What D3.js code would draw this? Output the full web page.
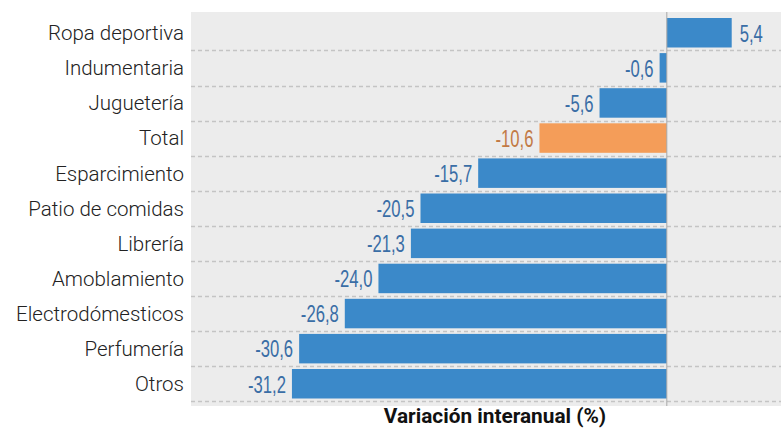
<!DOCTYPE html>
<html>
<head>
<meta charset="utf-8">
<script src="https://cdn.jsdelivr.net/npm/d3@7"></script>
<style>
  body { margin: 0; background: #fff; }
  svg { display: block; }
</style>
</head>
<body>
<div id="vis"></div>
<script>
// data
var categories = ['Ropa deportiva', 'Indumentaria', 'Juguetería', 'Total', 'Esparcimiento',
  'Patio de comidas', 'Librería', 'Amoblamiento', 'Electrodómesticos', 'Perfumería', 'Otros'];
var values = [5.4, -0.6, -5.6, -10.6, -15.7, -20.5, -21.3, -24.0, -26.8, -30.6, -31.2];
var highlight = 'Total';
var axisTitle = 'Variación interanual (%)';

var width = 781;
var height = 430;

var data = categories.map(function (c, i) { return { cat: c, value: values[i] }; });

var svg = d3.select('#vis').append('svg')
  .attr('width', width)
  .attr('height', height);

// scales
var x = d3.scaleLinear().domain([-39.6, 11]).range([191, 799]);
var y = d3.scaleBand().domain(categories).range([15.2, 401.3])
  .paddingInner(0.16).paddingOuter(0.08);

var fmt = function (v) { return d3.format('.1f')(v).replace('.', ',').replace('−', '-'); };

// background panel
svg.append('rect')
  .attr('x', x.range()[0])
  .attr('y', 12)
  .attr('width', x.range()[1] - x.range()[0])
  .attr('height', 394)
  .attr('fill', '#ececec');

// dashed separators
svg.append('g').selectAll('line')
  .data(data)
  .join('line')
  .attr('x1', x.range()[0])
  .attr('x2', x.range()[1])
  .attr('y1', function (d) { return Math.round(y(d.cat) + y.bandwidth() + 3) + 0.5; })
  .attr('y2', function (d) { return Math.round(y(d.cat) + y.bandwidth() + 3) + 0.5; })
  .attr('stroke', '#c4c4c4')
  .attr('stroke-width', 1.3)
  .attr('stroke-dasharray', '4,3');

// bars
svg.append('g').selectAll('rect')
  .data(data)
  .join('rect')
  .attr('x', function (d) { return x(Math.min(0, d.value)); })
  .attr('y', function (d) { return y(d.cat); })
  .attr('width', function (d) { return Math.abs(x(d.value) - x(0)); })
  .attr('height', y.bandwidth())
  .attr('fill', function (d) { return d.cat === highlight ? '#f49d59' : '#3b89c9'; });

// zero line
svg.append('line')
  .attr('x1', x(0)).attr('x2', x(0))
  .attr('y1', 12).attr('y2', 406)
  .attr('stroke', '#a8a8a8')
  .attr('stroke-width', 1);

// category labels
svg.append('g').selectAll('text')
  .data(data)
  .join('text')
  .attr('x', 184)
  .attr('y', function (d) { return y(d.cat) + y.bandwidth() / 2; })
  .attr('dy', '0.36em')
  .attr('text-anchor', 'end')
  .style('font-family', 'Roboto, "Noto Sans", sans-serif')
  .style('font-weight', 300)
  .style('font-size', '20.5px')
  .style('fill', '#222')
  .text(function (d) { return d.cat; });

// value labels (squeezed to look condensed)
svg.append('g').selectAll('text')
  .data(data)
  .join('text')
  .attr('transform', function (d) {
    var px = d.value < 0 ? x(d.value) - 6 : x(d.value) + 8;
    var py = y(d.cat) + y.bandwidth() / 2;
    return 'translate(' + px + ',' + py + ') scale(0.68,1)';
  })
  .attr('dy', '0.36em')
  .attr('text-anchor', function (d) { return d.value < 0 ? 'end' : 'start'; })
  .style('font-family', '"Liberation Sans", Arial, sans-serif')
  .style('font-size', '24.5px')
  .style('fill', function (d) { return d.cat === highlight ? '#c27a45' : '#3a6ea6'; })
  .text(function (d) { return fmt(d.value); });

// axis title
svg.append('text')
  .attr('x', 495)
  .attr('y', 423)
  .attr('text-anchor', 'middle')
  .style('font-family', 'Roboto, "Noto Sans", sans-serif')
  .style('font-weight', 'bold')
  .style('font-size', '20.8px')
  .style('fill', '#111')
  .text(axisTitle);
</script>
</body>
</html>
